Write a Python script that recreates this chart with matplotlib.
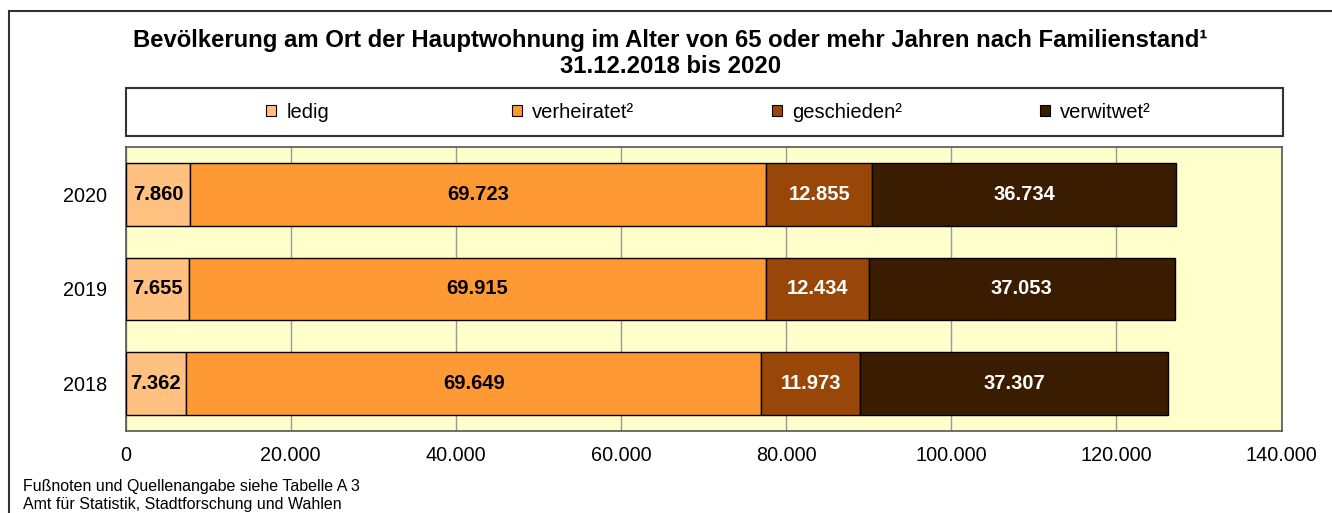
import matplotlib
matplotlib.use("Agg")
import matplotlib.pyplot as plt
from matplotlib.patches import Rectangle, Patch
from matplotlib.ticker import FuncFormatter

plt.rcParams['font.family'] = ['Liberation Sans', 'DejaVu Sans']

years = ["2018", "2019", "2020"]
categories = ["ledig", "verheiratet²", "geschieden²", "verwitwet²"]
ledig = [7362, 7655, 7860]
verheiratet = [69649, 69915, 69723]
geschieden = [11973, 12434, 12855]
verwitwet = [37307, 37053, 36734]
series = [ledig, verheiratet, geschieden, verwitwet]
colors = ["#FFC080", "#FF9933", "#994708", "#3A1D00"]
text_colors = ["black", "black", "white", "white"]
xticks = [0, 20000, 40000, 60000, 80000, 100000, 120000, 140000]

def de(v):
    return f"{int(v):,}".replace(",", ".")

W, H = 1332, 513
fig = plt.figure(figsize=(W / 100, H / 100), dpi=100)
ax = fig.add_axes([125.5 / W, 1 - 431 / H, (1281.5 - 125.5) / W, (431 - 147) / H])
ax.set_facecolor("#FFFFCC")

ypos = list(range(len(years)))
left = [0] * len(years)
for vals, c, tc, name in zip(series, colors, text_colors, categories):
    ax.barh(ypos, vals, left=left, height=0.665, color=c,
            edgecolor="black", linewidth=1, zorder=3, label=name)
    for y, v, l in zip(ypos, vals, left):
        ax.text(l + v / 2, y, de(v), ha="center", va="center",
                color=tc, fontsize=14.5, fontweight="bold", zorder=4)
    left = [a + b for a, b in zip(left, vals)]

ax.set_xlim(0, 140000)
ax.set_ylim(-0.5, 2.5)
ax.set_xticks(xticks)
ax.xaxis.set_major_formatter(FuncFormatter(lambda v, p: de(v)))
ax.set_yticks(ypos)
ax.set_yticklabels(years)
ax.tick_params(axis="both", length=0, labelsize=14.3)
ax.tick_params(axis="x", pad=11)
ax.tick_params(axis="y", pad=13)
ax.grid(axis="x", color="#999999", linewidth=1, zorder=0)
ax.set_axisbelow(True)
for s in ax.spines.values():
    s.set_color("#555555")
    s.set_linewidth(1.2)

# Outer frame
fig.patches.append(Rectangle((9 / W, -0.05), 1.2, 1 - 10.5 / H + 0.05,
                             transform=fig.transFigure, fill=False,
                             edgecolor="#333333", linewidth=1.5))

# Title
fig.text(670.5 / W, 1 - 40 / H,
         "Bevölkerung am Ort der Hauptwohnung im Alter von 65 oder mehr Jahren nach Familienstand¹",
         ha="center", va="center", fontsize=17.2, fontweight="bold")
fig.text(670.5 / W, 1 - 67 / H, "31.12.2018 bis 2020",
         ha="center", va="center", fontsize=17.2, fontweight="bold")

# Legend box
fig.patches.append(Rectangle((125.7 / W, 1 - 136 / H), (1283 - 125.7) / W, 48 / H,
                             transform=fig.transFigure, fill=False,
                             edgecolor="#333333", linewidth=1.5))
leg_x = [266, 512, 772, 1040]
for hx, c, name in zip(leg_x, colors, categories):
    fig.legend(handles=[Patch(facecolor=c, edgecolor="black", linewidth=0.8, label=name)],
               loc="center left", bbox_to_anchor=(hx / W, 1 - 112 / H),
               frameon=False, fontsize=14.5, handlelength=0.5, handleheight=0.5,
               handletextpad=0.5, borderpad=0, borderaxespad=0)

# Footnote
fig.text(23 / W, 1 - 486 / H, "Fußnoten und Quellenangabe siehe Tabelle A 3",
         ha="left", va="center", fontsize=11.5)
fig.text(23 / W, 1 - 504 / H, "Amt für Statistik, Stadtforschung und Wahlen",
         ha="left", va="center", fontsize=11.5)

fig.savefig("out.png", dpi=100)
